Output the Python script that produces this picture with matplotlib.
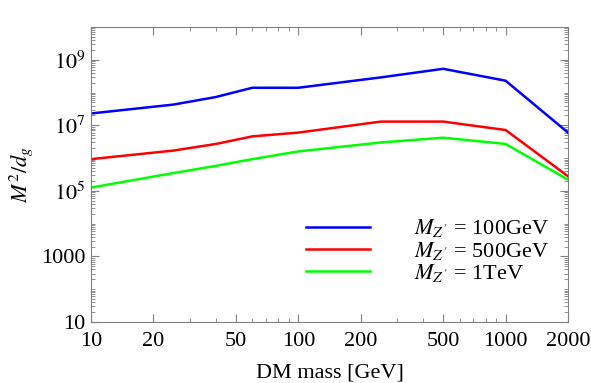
import numpy as np
import matplotlib
matplotlib.use("Agg")
import matplotlib.pyplot as plt
from matplotlib.ticker import LogLocator, FixedLocator, NullFormatter

plt.rcParams['font.family'] = ['Liberation Serif', 'DejaVu Serif']
plt.rcParams['mathtext.fontset'] = 'stix'

# DM mass points [GeV]
dm_mass = [10, 25, 40, 60, 100, 250, 500, 1000, 2000]

# M^2/d_g for each Z' mass
mz_100 = [2.3e7, 4.3e7, 7.3e7, 1.4e8, 1.4e8, 2.9e8, 5.3e8, 2.3e8, 6.0e6]
mz_500 = [9.3e5, 1.7e6, 2.7e6, 4.6e6, 6.0e6, 1.3e7, 1.3e7, 7.2e6, 2.8e5]
mz_1000 = [1.26e5, 3.5e5, 5.8e5, 9.3e5, 1.6e6, 3.0e6, 4.2e6, 2.7e6, 2.2e5]

labels = [r"$M_{Z'}$ = 100GeV", r"$M_{Z'}$ = 500GeV", r"$M_{Z'}$ = 1TeV"]
colors = ["#0000ff", "#ff0000", "#00ff00"]

x_ticks = [10, 20, 50, 100, 200, 500, 1000, 2000]
y_ticks = [10, 1e3, 1e5, 1e7, 1e9]
y_ticklabels = ["10", "1000", r"$10^5$", r"$10^7$", r"$10^9$"]

fig = plt.figure(figsize=(5.91, 3.83), dpi=100)
ax = fig.add_axes([91 / 591, 1 - 322 / 383, 477 / 591, 295 / 383])

for ys, lab, c in zip([mz_100, mz_500, mz_1000], labels, colors):
    ax.plot(dm_mass, ys, color=c, lw=1.8, label=lab)

ax.set_xscale('log')
ax.set_yscale('log')
ax.set_xlim(10, 2000)
ax.set_ylim(10, 1e10)

ax.xaxis.set_major_locator(FixedLocator(x_ticks))
ax.set_xticklabels([str(t) for t in x_ticks])
ax.xaxis.set_minor_locator(FixedLocator([30, 40, 60, 70, 80, 90, 300, 400, 600, 700, 800, 900]))
ax.xaxis.set_minor_formatter(NullFormatter())

ax.yaxis.set_major_locator(FixedLocator(y_ticks))
ax.set_yticklabels(y_ticklabels)
ax.yaxis.set_minor_locator(LogLocator(base=10, subs=np.arange(1, 10), numticks=30))
ax.yaxis.set_minor_formatter(NullFormatter())

grey = "#808080"
for sp in ax.spines.values():
    sp.set_color(grey)
ax.tick_params(which='both', direction='in', top=True, right=True, colors=grey,
               labelcolor='black', labelsize=16)
ax.tick_params(which='major', length=6)
ax.tick_params(which='minor', length=3)
ax.tick_params(axis='x', pad=7)
ax.tick_params(axis='y', pad=4)

ax.set_xlabel("DM mass [GeV]", fontsize=16, labelpad=9)
ax.set_ylabel(r"$M^2/d_g$", fontsize=16, labelpad=4)

ax.legend(loc='upper left', bbox_to_anchor=(0.432, 0.385), frameon=False, fontsize=16,
          handlelength=2.9, handletextpad=1.95, labelspacing=0.02, borderaxespad=0)

fig.savefig("out.png", dpi=100)
